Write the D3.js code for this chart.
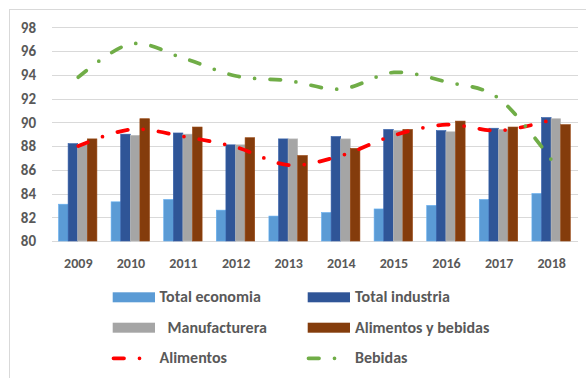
<!DOCTYPE html>
<html>
<head>
<meta charset="utf-8">
<script src="https://cdn.jsdelivr.net/npm/d3@7"></script>
<style>
  html, body { margin: 0; padding: 0; background: #fff; }
  svg { display: block; }
  text { font-family: Carlito, Lato, "Liberation Sans", sans-serif; font-weight: 700; fill: #595959; }
</style>
</head>
<body>
<svg id="chart" width="586" height="378"></svg>
<script>
// Years on the category axis
const years = ["2009", "2010", "2011", "2012", "2013", "2014", "2015", "2016", "2017", "2018"];

// Bar series
const totalEconomia    = [83.1, 83.3, 83.5, 82.6, 82.1, 82.4, 82.7, 83.0, 83.5, 84.0];
const totalIndustria   = [88.2, 89.0, 89.1, 88.1, 88.6, 88.8, 89.4, 89.3, 89.5, 90.4];
const manufacturera    = [88.1, 88.9, 89.0, 88.1, 88.6, 88.6, 89.3, 89.2, 89.4, 90.3];
const alimentosBebidas = [88.6, 90.3, 89.6, 88.7, 87.2, 87.8, 89.4, 90.1, 89.6, 89.8];

// Line series
const alimentos = [88.0, 89.4, 88.8, 87.9, 86.4, 87.2, 88.9, 89.8, 89.3, 90.2];
const bebidas   = [93.8, 96.6, 95.4, 93.9, 93.5, 92.8, 94.2, 93.4, 92.0, 86.8];

// Value axis ticks
const yTicks = [80, 82, 84, 86, 88, 90, 92, 94, 96, 98];

const barSeries = [
  { name: "Total economia",      values: totalEconomia,    color: "#5B9BD5" },
  { name: "Total industria",     values: totalIndustria,   color: "#2F5597" },
  { name: "Manufacturera",       values: manufacturera,    color: "#A5A5A5" },
  { name: "Alimentos y bebidas", values: alimentosBebidas, color: "#843C0C" }
];
const lineSeries = [
  { name: "Alimentos", values: alimentos, color: "#FF0000" },
  { name: "Bebidas",   values: bebidas,   color: "#70AD47" }
];

const svg = d3.select("#chart");
const plot = { left: 52, right: 578, top: 27.3, bottom: 241 };

// Outer chart-area border
svg.append("rect")
  .attr("x", 9.5).attr("y", 9.5)
  .attr("width", 620).attr("height", 420)
  .attr("fill", "none").attr("stroke", "#D9D9D9").attr("stroke-width", 1);

const x = d3.scaleBand().domain(years).range([plot.left, plot.right]).padding(0);
const y = d3.scaleLinear().domain([80, 98]).range([plot.bottom, plot.top]);

const groupWidth = 38.4;
const xSub = d3.scaleBand().domain(barSeries.map(s => s.name)).range([0, groupWidth]).padding(0);
const groupOffset = (x.bandwidth() - groupWidth) / 2 - 0.6;

// Horizontal gridlines
svg.append("g")
  .selectAll("line")
  .data(yTicks)
  .join("line")
  .attr("x1", plot.left).attr("x2", plot.right)
  .attr("y1", d => Math.round(y(d)) + 0.5).attr("y2", d => Math.round(y(d)) + 0.5)
  .attr("stroke", "#D9D9D9").attr("stroke-width", 1);

// Y axis labels
svg.append("g")
  .selectAll("text")
  .data(yTicks)
  .join("text")
  .attr("x", 36)
  .attr("y", d => y(d) + 5.3)
  .attr("text-anchor", "end")
  .attr("font-size", 15)
  .text(d => d);

// X axis labels
svg.append("g")
  .selectAll("text")
  .data(years)
  .join("text")
  .attr("x", d => x(d) + x.bandwidth() / 2)
  .attr("y", 267.5)
  .attr("text-anchor", "middle")
  .attr("font-size", 14)
  .text(d => d);

// Clustered bars
const barG = svg.append("g");
barSeries.forEach(s => {
  barG.append("g")
    .selectAll("rect")
    .data(years.map((yr, i) => ({ yr, v: s.values[i] })))
    .join("rect")
    .attr("x", d => x(d.yr) + groupOffset + xSub(s.name))
    .attr("y", d => y(d.v))
    .attr("width", xSub.bandwidth())
    .attr("height", d => y(80) - y(d.v))
    .attr("fill", s.color)
    .attr("stroke", d3.color(s.color).brighter(0.35))
    .attr("stroke-width", 0.6);
});

// Smoothed long-dash-dot lines
const dashPattern = "10.5 15.5 0 15.5";
const lineGen = d3.line()
  .x((d, i) => x(years[i]) + x.bandwidth() / 2)
  .y(d => y(d))
  .curve(d3.curveCardinal.tension(0));

lineSeries.forEach(s => {
  svg.append("path")
    .attr("d", lineGen(s.values))
    .attr("fill", "none")
    .attr("stroke", s.color)
    .attr("stroke-width", 3.75)
    .attr("stroke-linecap", "round")
    .attr("stroke-dasharray", dashPattern);
});

// Legend
const legendItems = [
  { s: barSeries[0], kind: "bar",  sx: 112.7, tx: 159.5, row: 0 },
  { s: barSeries[1], kind: "bar",  sx: 307.7, tx: 355,   row: 0 },
  { s: barSeries[2], kind: "bar",  sx: 112.7, tx: 167.5, row: 1 },
  { s: barSeries[3], kind: "bar",  sx: 307.7, tx: 355,   row: 1 },
  { s: lineSeries[0], kind: "line", sx: 113.5, tx: 159.5, row: 2 },
  { s: lineSeries[1], kind: "line", sx: 308.5, tx: 355,   row: 2 }
];
const rowBase = [302.3, 332.7, 362.7];

const legend = svg.append("g");
legendItems.forEach(it => {
  const base = rowBase[it.row];
  if (it.kind === "bar") {
    legend.append("rect")
      .attr("x", it.sx).attr("y", base - 10)
      .attr("width", 42.3).attr("height", 10)
      .attr("fill", it.s.color);
  } else {
    legend.append("line")
      .attr("x1", it.sx).attr("x2", it.sx + 27)
      .attr("y1", base - 4.4).attr("y2", base - 4.4)
      .attr("stroke", it.s.color)
      .attr("stroke-width", 3.75)
      .attr("stroke-linecap", "round")
      .attr("stroke-dasharray", dashPattern);
  }
  legend.append("text")
    .attr("x", it.tx).attr("y", base)
    .attr("font-size", 16)
    .text(it.s.name);
});
</script>
</body>
</html>
